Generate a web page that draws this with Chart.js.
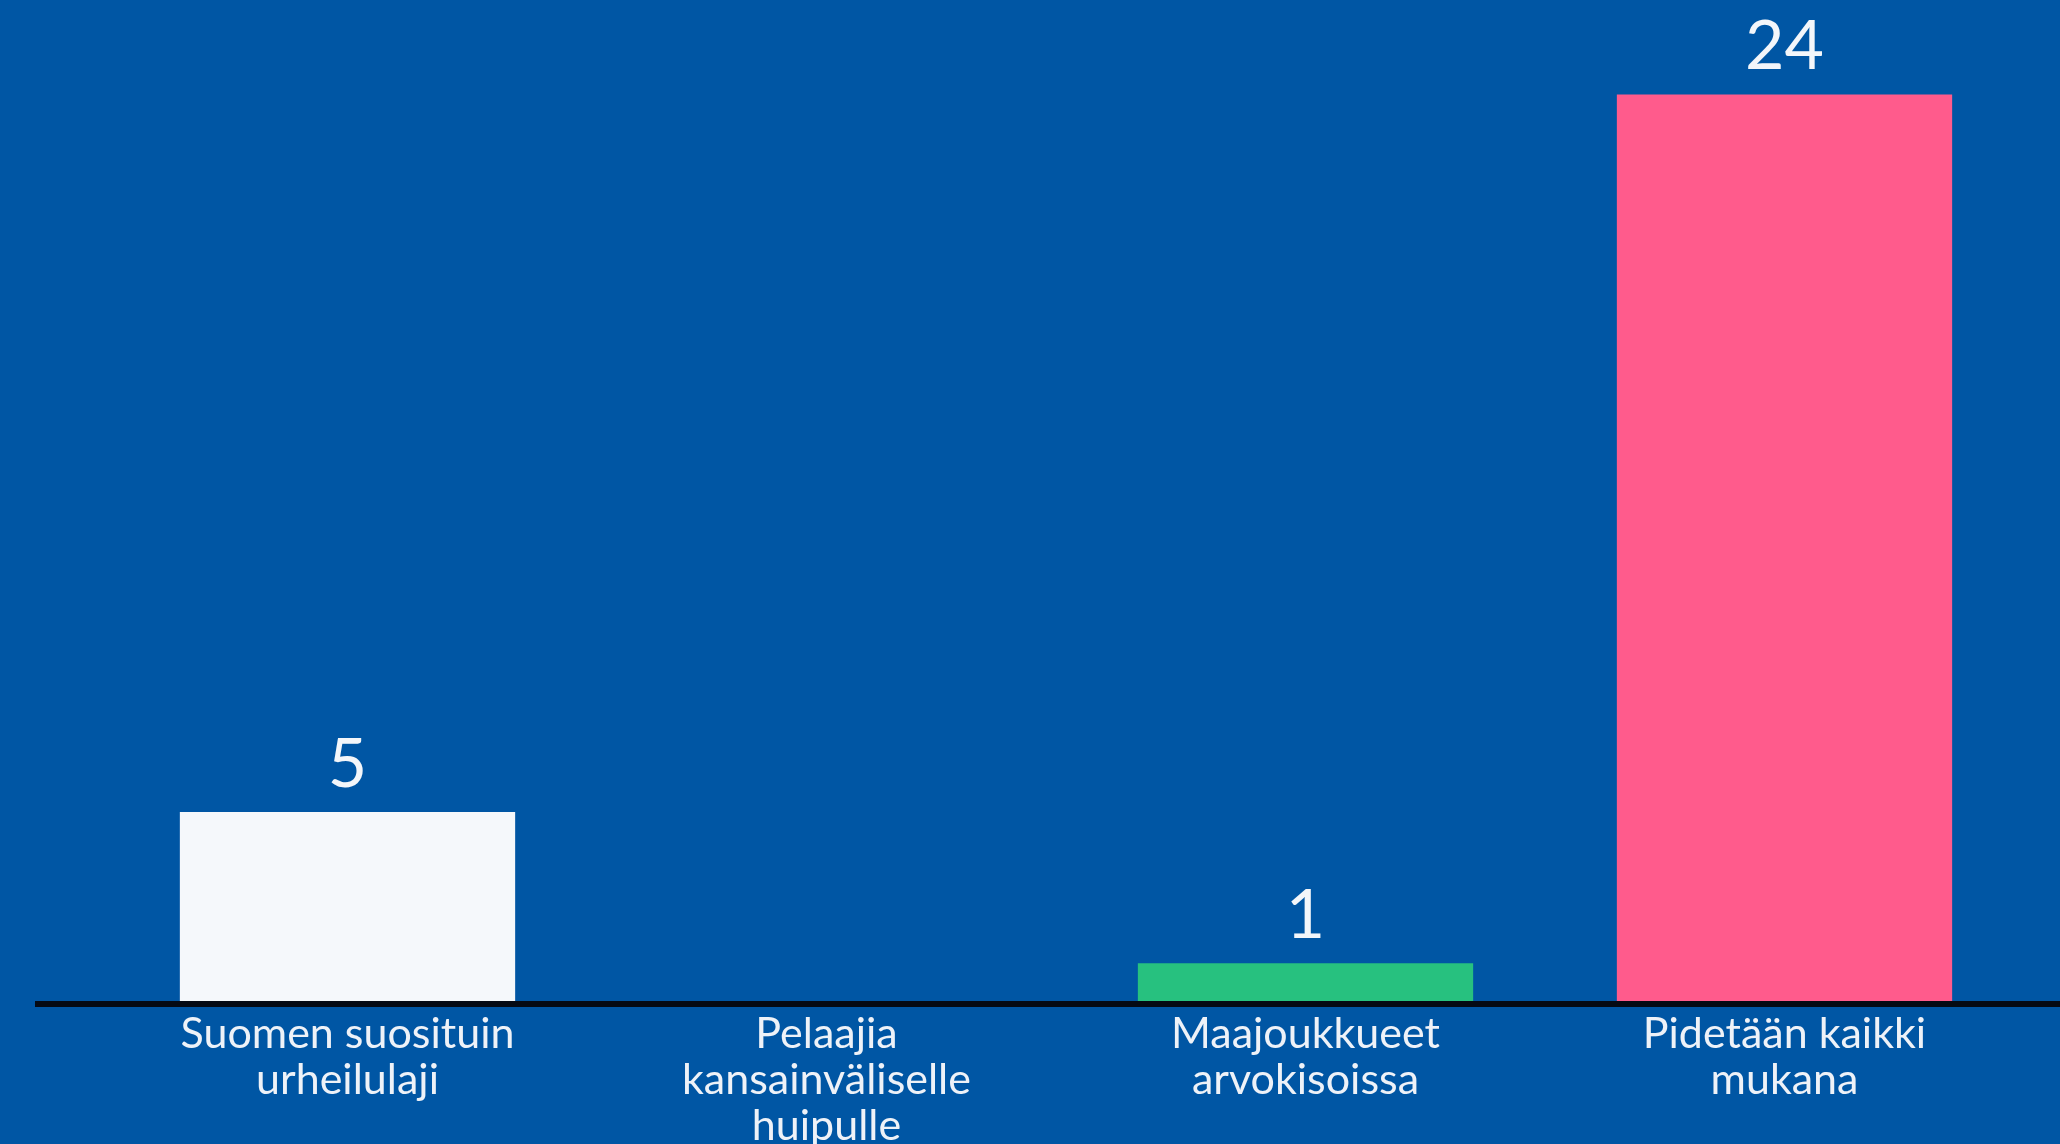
<!DOCTYPE html>
<html>
<head>
<meta charset="utf-8">
<script src="https://cdn.jsdelivr.net/npm/chart.js@4/dist/chart.umd.min.js"></script>
<style>
  html, body { margin: 0; padding: 0; background: #0056A4; }
  #wrap { width: 2060px; height: 1144px; position: relative; }
</style>
</head>
<body>
<div id="wrap"><canvas id="c"></canvas></div>
<script>
const categories = [
  ["Suomen suosituin", "urheilulaji"],
  ["Pelaajia", "kansainväliselle", "huipulle"],
  ["Maajoukkueet", "arvokisoissa"],
  ["Pidetään kaikki", "mukana"]
];
const values = [5, 0, 1, 24];
const barColors = ["#F5F8FB", "#F5F8FB", "#27C17F", "#FF5B8C"];

const FONT = "Lato, 'Noto Sans', sans-serif";

const valueLabels = {
  id: 'valueLabels',
  afterDatasetsDraw(chart) {
    const ctx = chart.ctx;
    const meta = chart.getDatasetMeta(0);
    ctx.save();
    ctx.fillStyle = '#F3F6FA';
    ctx.font = '68px ' + FONT;
    ctx.textAlign = 'center';
    ctx.textBaseline = 'alphabetic';
    meta.data.forEach((bar, i) => {
      const v = chart.data.datasets[0].data[i];
      if (v > 0) ctx.fillText(String(v), bar.x, bar.y - 25);
    });
    ctx.restore();
  }
};

const baseLine = {
  id: 'baseLine',
  afterDatasetsDraw(chart) {
    const ctx = chart.ctx;
    const y = chart.scales.y.getPixelForValue(0) + 3;
    ctx.save();
    ctx.strokeStyle = '#050a14';
    ctx.lineWidth = 6;
    ctx.beginPath();
    ctx.moveTo(35, y);
    ctx.lineTo(chart.width, y);
    ctx.stroke();
    ctx.restore();
  }
};

new Chart(document.getElementById('c'), {
  type: 'bar',
  data: {
    labels: categories,
    datasets: [{
      data: values,
      backgroundColor: barColors,
      borderWidth: 0,
      categoryPercentage: 1.0,
      barPercentage: 0.7
    }]
  },
  options: {
    responsive: true,
    maintainAspectRatio: false,
    animation: false,
    layout: { padding: { left: 108, right: 36, top: 0, bottom: -15 } },
    plugins: { legend: { display: false }, tooltip: { enabled: false } },
    scales: {
      y: {
        display: false,
        min: 0,
        max: 26.5
      },
      x: {
        grid: { display: false, drawTicks: false },
        border: { display: false },
        ticks: {
          color: '#EEF2F8',
          font: { family: FONT, size: 43, lineHeight: 1.07 },
          padding: 10,
          maxRotation: 0,
          autoSkip: false
        }
      }
    }
  },
  plugins: [valueLabels, baseLine]
});
</script>
</body>
</html>
